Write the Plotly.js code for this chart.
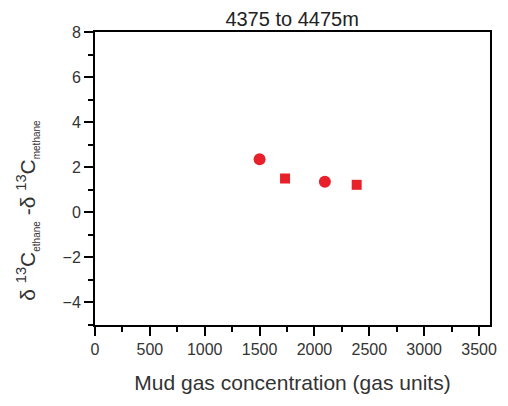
<!DOCTYPE html>
<html>
<head>
<meta charset="utf-8">
<script src="https://cdn.plot.ly/plotly-3.0.1.min.js"></script>
<style>html,body{margin:0;padding:0;background:#fff;}#chart{width:508px;height:406px;}</style>
</head>
<body>
<div id="chart"></div>
<script>
const circleX = [1500, 2095];
const circleY = [2.35, 1.36];
const squareX = [1732, 2385];
const squareY = [1.5, 1.22];
const titleText = "4375 to 4475m";
const xTitle = "Mud gas concentration (gas units)";
const yTitle = "δ <sup>13</sup>C<sub><span style=\"font-size:10px\">ethane</span></sub> -δ <sup>13</sup>C<sub><span style=\"font-size:10px\">methane</span></sub>";

const red = "#e8202a";
const traces = [
  {x: circleX, y: circleY, mode: "markers", type: "scatter",
   marker: {symbol: "circle", size: 12, color: red}},
  {x: squareX, y: squareY, mode: "markers", type: "scatter",
   marker: {symbol: "square", size: 10, color: red}}
];
const fam = "Liberation Sans, Arial, sans-serif";
const layout = {
  width: 508, height: 406,
  margin: {l: 95, r: 18, t: 32, b: 81},
  paper_bgcolor: "#fff", plot_bgcolor: "#fff",
  showlegend: false,
  font: {family: fam, color: "#222"},
  title: {text: titleText, font: {size: 20, color: "#222", family: fam},
          x: 0.575, xanchor: "center", y: 0.952, yanchor: "middle"},
  xaxis: {
    range: [0, 3600], tick0: 0, dtick: 500, showgrid: false, zeroline: false,
    showline: true, linecolor: "#000", linewidth: 2, mirror: true,
    ticks: "outside", ticklen: 9, tickwidth: 2, tickcolor: "#000",
    tickfont: {size: 16, color: "#333"},
    minor: {dtick: 250, ticks: "outside", ticklen: 5, tickwidth: 2, tickcolor: "#000", showgrid: false},
    title: {text: xTitle, font: {size: 21, color: "#333"}, standoff: 18}
  },
  yaxis: {
    range: [-5, 8], tick0: 0, dtick: 2, showgrid: false, zeroline: false,
    showline: true, linecolor: "#000", linewidth: 2, mirror: true,
    ticks: "outside", ticklen: 9, tickwidth: 2, tickcolor: "#000",
    tickfont: {size: 16, color: "#333"},
    minor: {dtick: 1, ticks: "outside", ticklen: 5, tickwidth: 2, tickcolor: "#000", showgrid: false}
  },
  annotations: [{
    text: yTitle, textangle: -90, showarrow: false,
    xref: "paper", yref: "paper", x: -0.172, y: 0.39,
    xanchor: "center", yanchor: "middle",
    font: {size: 21, color: "#333", family: fam}
  }]
};
Plotly.newPlot("chart", traces, layout, {displayModeBar: false, staticPlot: true});
</script>
</body>
</html>
